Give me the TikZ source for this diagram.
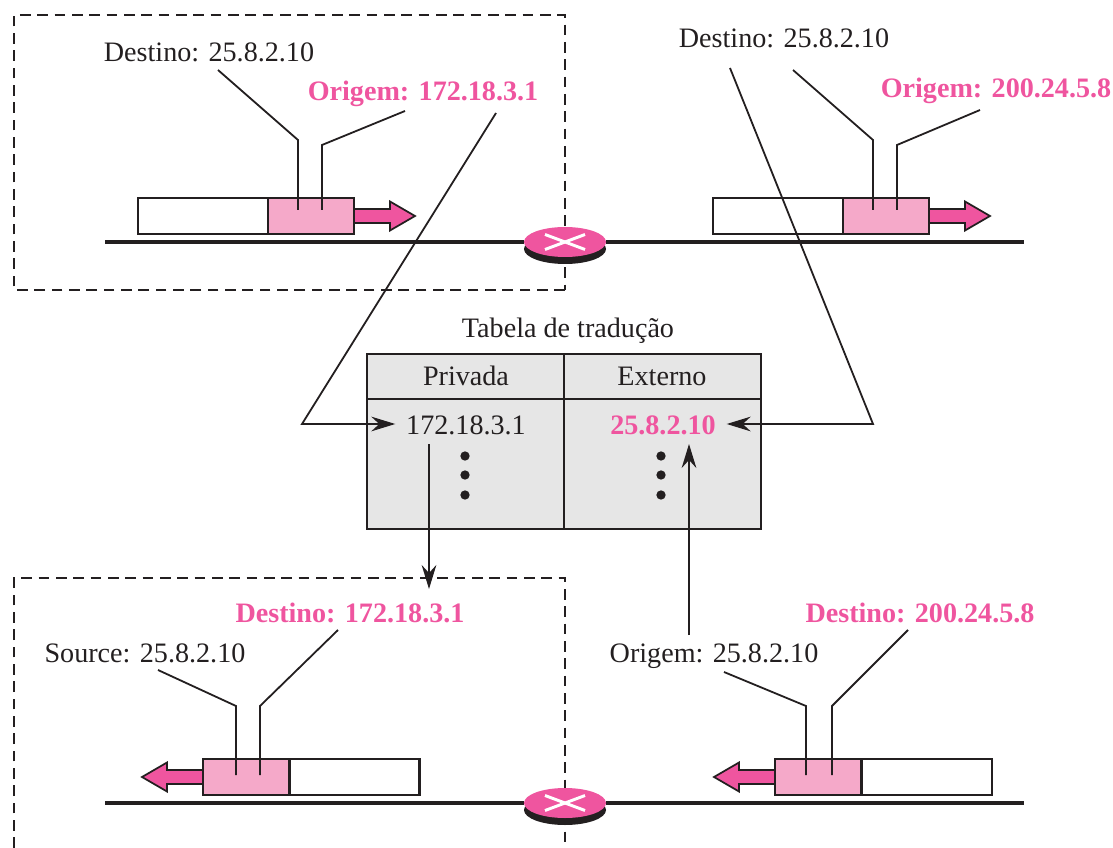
\documentclass[tikz,border=0pt]{standalone}
\usepackage{fontspec}
\setmainfont{Liberation Serif}
\usetikzlibrary{shapes.geometric}
\usetikzlibrary{arrows.meta}

\definecolor{natpink}{HTML}{EF559F}
\definecolor{natlight}{HTML}{F5A9C9}
\definecolor{natink}{HTML}{231F20}
\definecolor{natgray}{HTML}{E6E6E6}

\tikzset{
    label/.style={inner sep=0pt,text=natink,font=\fontsize{21.1}{24}\selectfont},
    labelpink/.style={inner sep=0pt,text=natpink,font=\fontsize{21.1}{24}\selectfont\bfseries},
    leader/.style={draw=natink,line width=1.35pt},
    conn/.style={draw=natink,line width=1.35pt,-{Stealth[length=18pt,width=11pt,inset=6pt]}},
    wire/.style={draw=natink,line width=3pt},
    boxline/.style={draw=natink,line width=1.4pt,dash pattern=on 8pt off 5pt},
    emptybox/.style={draw=natink,line width=1.6pt,fill=white,inner sep=0pt,minimum width=97.5pt,minimum height=27pt},
    pinkbox/.style={draw=natink,line width=1.4pt,fill=natlight,inner sep=0pt,minimum width=64.5pt,minimum height=27pt},
    router/.style={ellipse,fill=natpink,inner sep=0pt,minimum width=61.5pt,minimum height=22.5pt},
    routerbase/.style={ellipse,fill=natink,inner sep=0pt,minimum width=61.5pt,minimum height=22.5pt},
}

\begin{document}
\begin{tikzpicture}[x=0.75pt,y=-0.75pt]
        \useasboundingbox (0,0) rectangle (1113,848);

        % dashed networks
        \draw [boxline] (565,290) -- (14,290) -- (14,15) -- (565,15) -- (565,290);
        \draw [boxline] (14,848) -- (14,578) -- (565,578) -- (565,848);

        % routers
        \path node (s1) [routerbase] at (565,249) {};
        \path node (r1) [router] at (565,242) {};
        \path node (s2) [routerbase] at (565,810) {};
        \path node (r2) [router] at (565,803) {};
        \foreach \r in {r1,r2}
        {
            \draw [white,line width=2.2pt] ([shift={(-20,-7.5)}]\r.center) -- ([shift={(20,7.5)}]\r.center);
            \draw [white,line width=2.2pt] ([shift={(-20,7.5)}]\r.center) -- ([shift={(20,-7.5)}]\r.center);
        }

        % wires
        \coordinate (w1) at (105,242);
        \coordinate (w2) at (1024,242);
        \coordinate (w3) at (105,803);
        \coordinate (w4) at (1024,803);
        \draw [wire] (w1) -- (r1);
        \draw [wire] (r1) -- (w2);
        \draw [wire,line width=2.5pt] (w3) -- (r2);
        \draw [wire,line width=2.5pt] (r2) -- (w4);

        % packets
        \path node (e1) [emptybox] at (203,216) {};
        \path node (p1) [pinkbox] at (311,216) {};
        \path node (e2) [emptybox] at (778,216) {};
        \path node (p2) [pinkbox] at (886,216) {};
        \path node (e3) [emptybox] at (354.5,777) {};
        \path node (p3) [pinkbox] at (246,777) {};
        \path node (e4) [emptybox] at (927,777) {};
        \path node (p4) [pinkbox] at (818,777) {};

        % arrows beside the packets
        \foreach \x/\y/\d in {354/216/1,929/216/1,203/777/-1,775/777/-1}
        {
            \draw [natink,line width=1.3pt,fill=natpink] (\x,\y-7) -- ++(\d*36,0) -- ++(0,-7.5) -- ++(\d*25,14.5) -- ++(-\d*25,14.5) -- ++(0,-7.5) -- (\x,\y+7) -- cycle;
        }

        % labels
        \path node (a) [label] at (209,52) {Destino: 25.8.2.10};
        \path node (b) [labelpink] at (423,93.5) {Origem: 172.18.3.1};
        \path node (c) [label] at (784,38) {Destino: 25.8.2.10};
        \path node (d) [labelpink] at (996,90.5) {Origem: 200.24.5.8};
        \path node (f) [labelpink] at (350,613) {Destino: 172.18.3.1};
        \path node (g) [label] at (145,653) {Source: 25.8.2.10};
        \path node (h) [labelpink] at (920,613) {Destino: 200.24.5.8};
        \path node (i) [label] at (714,656) {Origem: 25.8.2.10};

        % table
        \path node (t) [label] at (568,331) {Tabela de tradução};
        \path node (t1) [draw=natink,line width=1.2pt,fill=natgray,inner sep=0pt,minimum width=147.75pt,minimum height=33.75pt] at (465.5,376.5) {};
        \path node (t2) [draw=natink,line width=1.2pt,fill=natgray,inner sep=0pt,minimum width=147.75pt,minimum height=33.75pt] at (662.5,376.5) {};
        \path node (t3) [draw=natink,line width=1.7pt,fill=natgray,inner sep=0pt,minimum width=147.75pt,minimum height=97.5pt] at (465.5,464) {};
        \path node (t4) [draw=natink,line width=1.7pt,fill=natgray,inner sep=0pt,minimum width=147.75pt,minimum height=97.5pt] at (662.5,464) {};
        \path node (u1) [label] at (466,376) {Privada};
        \path node (u2) [label] at (662,376) {Externo};
        \path node (n1) [label,inner sep=8pt] at (466,425) {172.18.3.1};
        \path node (n2) [labelpink,inner sep=8pt] at (663,425) {25.8.2.10};
        \foreach \x in {465,661}
        {
            \foreach \y in {456,475,495}
            {
                \fill [natink] (\x,\y) circle [radius=3.5pt];
            }
        }

        % bends of the leaders
        \coordinate (a1) at (218,70);
        \coordinate (a2) at (298,140);
        \coordinate (a3) at (298,210);
        \coordinate (b1) at (405,111);
        \coordinate (b2) at (322,145);
        \coordinate (b3) at (322,210);
        \coordinate (c1) at (793,70);
        \coordinate (c2) at (873,140);
        \coordinate (c3) at (873,210);
        \coordinate (d1) at (980,110);
        \coordinate (d2) at (897,145);
        \coordinate (d3) at (897,210);
        \coordinate (f1) at (338,630);
        \coordinate (f2) at (260,706);
        \coordinate (f3) at (260,775);
        \coordinate (g1) at (158,670);
        \coordinate (g2) at (236,706);
        \coordinate (g3) at (236,775);
        \coordinate (h1) at (908,630);
        \coordinate (h2) at (832,706);
        \coordinate (h3) at (832,775);
        \coordinate (i1) at (724,672);
        \coordinate (i2) at (806,706);
        \coordinate (i3) at (806,775);

        \draw [leader] (a1) -- (a2) -- (a3);
        \draw [leader] (b1) -- (b2) -- (b3);
        \draw [leader] (c1) -- (c2) -- (c3);
        \draw [leader] (d1) -- (d2) -- (d3);
        \draw [leader] (f1) -- (f2) -- (f3);
        \draw [leader] (g1) -- (g2) -- (g3);
        \draw [leader] (h1) -- (h2) -- (h3);
        \draw [leader] (i1) -- (i2) -- (i3);

        % lookups in the table
        \coordinate (k1) at (496,113);
        \coordinate (k2) at (302,424);
        \coordinate (k3) at (730,68);
        \coordinate (k4) at (873,424);
        \coordinate (k5) at (429,444);
        \coordinate (k6) at (429,589);
        \coordinate (k7) at (689,635);
        \coordinate (k8) at (689,444);
        \draw [conn] (k1) -- (k2) -- (n1.west |- k2);
        \draw [conn] (k3) -- (k4) -- (n2.east |- k4);
        \draw [conn] (k5) -- (k6);
        \draw [conn] (k7) -- (k8);
\end{tikzpicture}
\end{document}
